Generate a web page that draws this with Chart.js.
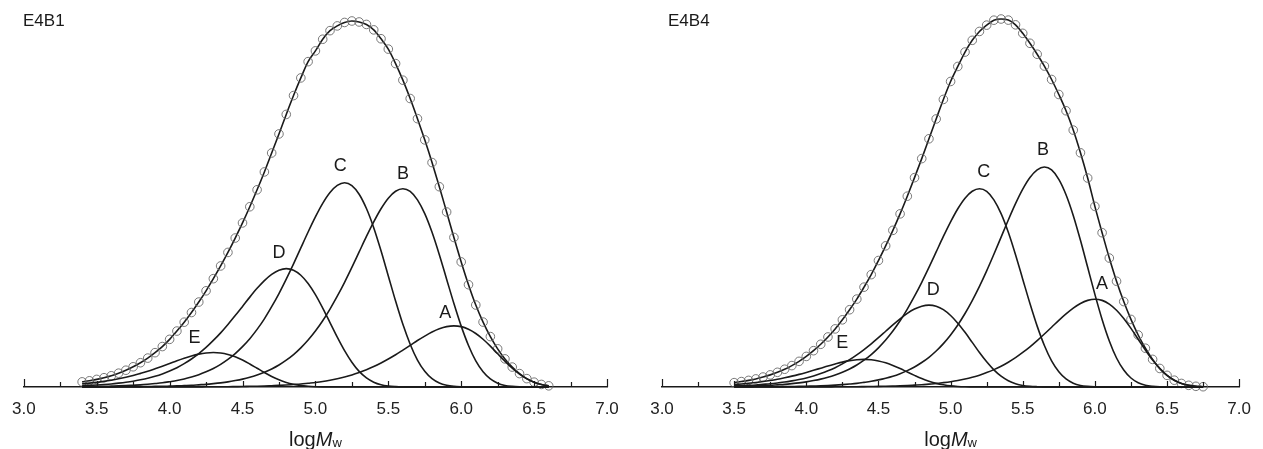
<!DOCTYPE html>
<html><head><meta charset="utf-8">
<script src="https://cdn.jsdelivr.net/npm/chart.js@4.4.1/dist/chart.umd.min.js"></script>
<style>
html,body{margin:0;padding:0;background:#fff;}
#wrap{position:relative;width:1263px;height:449px;overflow:hidden;}
canvas{position:absolute;top:0;}
</style></head><body>
<div id="wrap">
<canvas id="c1" width="631" height="449" style="left:0"></canvas>
<canvas id="c2" width="632" height="449" style="left:631px"></canvas>
</div>
<script>
// ---------- data (heights in arbitrary units) ----------
const xTickValues = [3.0, 3.5, 4.0, 4.5, 5.0, 5.5, 6.0, 6.5, 7.0];

const e4b1_logM = [3.40,3.45,3.50,3.55,3.60,3.65,3.70,3.75,3.80,3.85,3.90,3.95,4.00,4.05,4.10,4.15,4.20,4.25,4.30,4.35,4.40,4.45,4.50,4.55,4.60,4.65,4.70,4.75,4.80,4.85,4.90,4.95,5.00,5.05,5.10,5.15,5.20,5.25,5.30,5.35,5.40,5.45,5.50,5.55,5.60,5.65,5.70,5.75,5.80,5.85,5.90,5.95,6.00,6.05,6.10,6.15,6.20,6.25,6.30,6.35,6.40,6.45,6.50,6.55,6.60];
const e4b1_total = [5.2,6.3,7.7,9.4,11.4,14.0,17.0,20.5,24.6,29.3,34.8,41.0,48.3,56.7,65.7,75.5,86.1,97.5,109.8,122.7,136.4,151.0,166.3,182.7,199.9,218.0,237.2,256.5,276.3,295.4,313.3,329.8,340.7,352.5,361.2,366.0,369.5,371.0,370.0,367.5,362.0,353.0,342.5,327.8,311.0,292.4,272.0,250.5,227.5,203.0,177.4,151.6,126.8,103.7,83.1,65.8,51.1,38.7,28.5,20.2,13.6,8.5,4.9,2.6,1.2];
const e4b1_A = [0,0,0,0,0,0,0,0,0,0,0,0,0.1,0.1,0.1,0.1,0.1,0.2,0.2,0.3,0.3,0.4,0.5,0.7,0.8,1.0,1.3,1.6,2.0,2.5,3.0,3.8,4.6,5.6,6.9,8.4,10.1,12.2,14.7,17.5,20.7,24.4,28.4,32.7,37.4,42.2,47.1,51.6,55.7,59.0,61.2,62.0,61.2,58.5,54.2,48.4,41.4,33.7,26.1,19.0,13.0,8.2,4.8,2.5,1.2];
const e4b1_B = [0.1,0.1,0.1,0.1,0.1,0.2,0.2,0.3,0.4,0.5,0.6,0.7,0.9,1.1,1.4,1.7,2.2,2.7,3.4,4.2,5.2,6.5,8.0,9.9,12.2,14.9,18.3,22.3,27.2,32.9,39.7,47.6,56.7,67.1,79.0,92.0,106.1,121.2,136.9,152.6,167.4,180.7,191.4,198.4,201.0,198.3,189.7,175.7,156.8,134.1,109.3,84.6,61.7,42.1,26.5,15.5,8.2,3.9,1.6,0.6,0.2,0.1,0,0,0];
const e4b1_C = [0.4,0.5,0.6,0.7,0.9,1.1,1.4,1.8,2.2,2.8,3.5,4.3,5.4,6.6,8.2,10.2,12.5,15.4,18.8,23.0,28.0,33.9,40.9,49.0,58.4,69.1,81.4,94.7,109.3,124.8,141.0,157.1,172.4,186.1,197.1,204.3,207.0,204.2,195.4,180.9,161.5,138.1,112.6,87.1,63.5,43.4,27.3,15.9,8.4,4.0,1.7,0.6,0.2,0.1,0,0,0,0,0,0,0,0,0,0,0];
const e4b1_D = [1.3,1.6,2.0,2.5,3.1,3.9,4.8,5.9,7.3,8.9,10.9,13.3,16.2,19.6,23.7,28.4,33.9,40.1,47.2,54.9,63.4,72.4,81.7,91.1,100.0,107.9,114.2,118.4,120.0,118.4,113.3,104.9,93.6,80.0,65.3,50.5,36.8,25.1,15.8,9.2,4.9,2.3,1.0,0.4,0.1,0,0,0,0,0,0,0,0,0,0,0,0,0,0,0,0,0,0,0,0];
const e4b1_E = [3.2,3.9,4.7,5.7,6.9,8.3,9.9,11.7,13.8,16.0,18.5,21.1,23.8,26.6,29.2,31.5,33.3,34.5,35.0,34.5,33.0,30.6,27.3,23.3,19.0,14.7,10.7,7.3,4.6,2.7,1.4,0.7,0.3,0.1,0,0,0,0,0,0,0,0,0,0,0,0,0,0,0,0,0,0,0,0,0,0,0,0,0,0,0,0,0,0,0];

const e4b4_logM = [3.50,3.55,3.60,3.65,3.70,3.75,3.80,3.85,3.90,3.95,4.00,4.05,4.10,4.15,4.20,4.25,4.30,4.35,4.40,4.45,4.50,4.55,4.60,4.65,4.70,4.75,4.80,4.85,4.90,4.95,5.00,5.05,5.10,5.15,5.20,5.25,5.30,5.35,5.40,5.45,5.50,5.55,5.60,5.65,5.70,5.75,5.80,5.85,5.90,5.95,6.00,6.05,6.10,6.15,6.20,6.25,6.30,6.35,6.40,6.45,6.50,6.55,6.60,6.65,6.70,6.75];
const e4b4_total = [4.4,5.5,6.7,8.2,10.1,12.3,14.9,18.0,21.7,26.0,31.0,36.8,43.3,50.7,58.9,68.1,78.3,89.1,101.2,113.9,128.2,143.1,158.8,175.5,193.4,212.2,231.5,251.6,271.7,291.5,309.7,324.9,339.5,351.4,360.4,366.8,371.8,373.0,371.9,367.1,358.5,348.4,337.3,325.3,311.7,296.5,280.0,260.4,237.4,211.8,183.1,156.4,130.7,107.2,86.6,68.5,52.7,39.3,28.0,18.8,11.8,6.9,3.6,1.7,0.7,0.3];
const e4b4_A = [0,0,0,0,0,0,0,0,0,0,0.1,0.1,0.1,0.1,0.2,0.2,0.3,0.3,0.4,0.5,0.6,0.8,1.0,1.2,1.5,1.9,2.3,2.9,3.5,4.4,5.4,6.6,8.1,9.9,12.0,14.6,17.6,21.1,25.1,29.7,35.0,40.7,47.0,53.7,60.6,67.6,74.1,80.0,84.7,87.8,89.0,87.8,84.0,77.8,69.4,59.4,48.4,37.5,27.3,18.6,11.7,6.9,3.6,1.7,0.7,0.3];
const e4b4_B = [0.1,0.1,0.1,0.2,0.2,0.3,0.3,0.4,0.5,0.6,0.8,1.0,1.2,1.5,1.9,2.4,3.0,3.7,4.7,5.8,7.2,8.9,10.9,13.5,16.6,20.3,24.8,30.1,36.5,44.0,52.8,62.9,74.5,87.6,102.0,117.7,134.5,151.9,169.3,185.8,200.5,212.3,220.1,223.0,220.0,210.5,194.9,173.9,148.7,121.3,93.9,68.5,46.7,29.4,17.2,9.1,4.3,1.8,0.7,0.2,0.1,0,0,0,0,0];
const e4b4_C = [0.6,0.7,0.9,1.1,1.4,1.7,2.2,2.7,3.4,4.2,5.2,6.5,8.0,9.9,12.2,14.9,18.3,22.3,27.2,32.9,39.7,47.6,56.7,67.1,79.0,92.0,106.1,121.2,136.9,152.6,167.4,180.7,191.4,198.4,201.0,198.3,189.7,175.7,156.8,134.1,109.3,84.6,61.7,42.1,26.5,15.5,8.2,3.9,1.6,0.6,0.2,0.1,0,0,0,0,0,0,0,0,0,0,0,0,0,0];
const e4b4_D = [1.1,1.4,1.7,2.1,2.7,3.3,4.1,5.0,6.2,7.6,9.2,11.2,13.6,16.4,19.6,23.4,27.7,32.6,38.0,43.8,50.0,56.5,63.0,69.1,74.6,79.0,81.9,83.0,81.9,78.4,72.5,64.7,55.4,45.2,34.9,25.5,17.4,11.0,6.4,3.4,1.6,0.7,0.3,0.1,0,0,0,0,0,0,0,0,0,0,0,0,0,0,0,0,0,0,0,0,0,0];
const e4b4_E = [2.5,3.1,3.8,4.6,5.5,6.6,7.9,9.4,11.0,12.8,14.8,16.9,19.1,21.3,23.3,25.2,26.7,27.6,28.0,27.6,26.4,24.5,21.8,18.7,15.2,11.8,8.6,5.9,3.7,2.2,1.1,0.5,0.2,0.1,0,0,0,0,0,0,0,0,0,0,0,0,0,0,0,0,0,0,0,0,0,0,0,0,0,0,0,0,0,0,0,0];

const componentNames = ['A','B','C','D','E'];

// ---------- drawing ----------
const FONT = '"Liberation Sans", Arial, Helvetica, sans-serif';
const INK = '#1a1a1a';

function pts(xs, ys){ return xs.map((x,i)=>({x:x, y:ys[i]})); }

const decor = {
  id:'decor',
  afterDraw(chart, args, o){
    const ctx = chart.ctx, xs = chart.scales.x, ys = chart.scales.y, ca = chart.chartArea;
    ctx.save();
    // upward ticks (major + minor)
    ctx.strokeStyle = INK; ctx.lineWidth = 1.2;
    for (let v = 3.0; v <= 7.0001; v += 0.25){
      const px = Math.round(xs.getPixelForValue(v)) + 0.5;
      const major = Math.abs(v*2 - Math.round(v*2)) < 1e-6;
      const len = (v < 3.01 || v > 6.99) ? 8 : (major ? 6 : 5);
      ctx.beginPath(); ctx.moveTo(px, ca.bottom); ctx.lineTo(px, ca.bottom - len); ctx.stroke();
    }
    // component labels
    ctx.fillStyle = INK; ctx.font = '18px ' + FONT; ctx.textAlign = 'center'; ctx.textBaseline = 'middle';
    o.labels.forEach(l => ctx.fillText(l.t, xs.getPixelForValue(l.x), ys.getPixelForValue(l.y)));
    // panel label
    ctx.textAlign = 'left'; ctx.font = '17px ' + FONT;
    ctx.fillText(o.panel, o.panelX, o.panelY);
    // axis title: log M_w
    const cx = (ca.left + ca.right) / 2, by = o.titleY;
    ctx.textBaseline = 'alphabetic';
    ctx.font = '20px ' + FONT; const w1 = ctx.measureText('log').width;
    ctx.font = 'italic 20px ' + FONT; const w2 = ctx.measureText('M').width;
    ctx.font = '13px ' + FONT; const w3 = ctx.measureText('w').width;
    let x0 = cx - (w1 + w2 + w3) / 2;
    ctx.font = '20px ' + FONT; ctx.fillText('log', x0, by);
    ctx.font = 'italic 20px ' + FONT; ctx.fillText('M', x0 + w1, by);
    ctx.font = '13px ' + FONT; ctx.fillText('w', x0 + w1 + w2, by + 1);
    ctx.restore();
  }
};

function makePanel(id, logM, total, comps, opts){
  const datasets = comps.map((vals, k) => ({
    label: componentNames[k], data: pts(logM, vals),
    borderColor: INK, borderWidth: 1.6, pointRadius: 0, fill: false,
    cubicInterpolationMode: 'monotone', clip: false
  }));
  datasets.push({
    label: 'total', data: pts(logM, total),
    borderColor: INK, borderWidth: 1.6, fill: false,
    cubicInterpolationMode: 'monotone', clip: false,
    pointRadius: 4.3, pointStyle: 'circle', pointBorderWidth: 0.9,
    pointBorderColor: '#6a6a6a', pointBackgroundColor: 'rgba(255,255,255,0)'
  });
  return new Chart(document.getElementById(id), {
    type: 'line',
    data: { datasets },
    plugins: [decor],
    options: {
      responsive: false, animation: false, maintainAspectRatio: false,
      layout: { padding: { left: opts.padL, right: opts.padR, top: 0, bottom: 0 } },
      plugins: { legend: { display: false }, tooltip: { enabled: false }, decor: opts.decor },
      scales: {
        x: {
          type: 'linear', min: 3, max: 7,
          afterFit(s){ s.height = 62; },
          afterBuildTicks(s){ s.ticks = xTickValues.map(v => ({ value: v })); },
          grid: { display: false, drawTicks: false },
          border: { display: true, color: INK, width: 1.5 },
          ticks: { padding: 12, autoSkip: false, maxRotation: 0, color: '#222',
                   font: { family: FONT, size: 17 }, callback: v => Number(v).toFixed(1) }
        },
        y: { display: false, min: 0, max: 387 }
      }
    }
  });
}

makePanel('c1', e4b1_logM, e4b1_total, [e4b1_A, e4b1_B, e4b1_C, e4b1_D, e4b1_E], {
  padL: 21, padR: 24,
  decor: { panel: 'E4B1', panelX: 23, panelY: 21, titleY: 446,
    labels: [ {t:'A', x:5.89, y:75}, {t:'B', x:5.60, y:216}, {t:'C', x:5.17, y:224},
              {t:'D', x:4.75, y:136}, {t:'E', x:4.17, y:50} ] }
});
makePanel('c2', e4b4_logM, e4b4_total, [e4b4_A, e4b4_B, e4b4_C, e4b4_D, e4b4_E], {
  padL: 31, padR: 17,
  decor: { panel: 'E4B4', panelX: 37, panelY: 21, titleY: 446,
    labels: [ {t:'A', x:6.05, y:104}, {t:'B', x:5.64, y:240}, {t:'C', x:5.23, y:218},
              {t:'D', x:4.88, y:98}, {t:'E', x:4.25, y:45} ] }
});
</script>
</body></html>
